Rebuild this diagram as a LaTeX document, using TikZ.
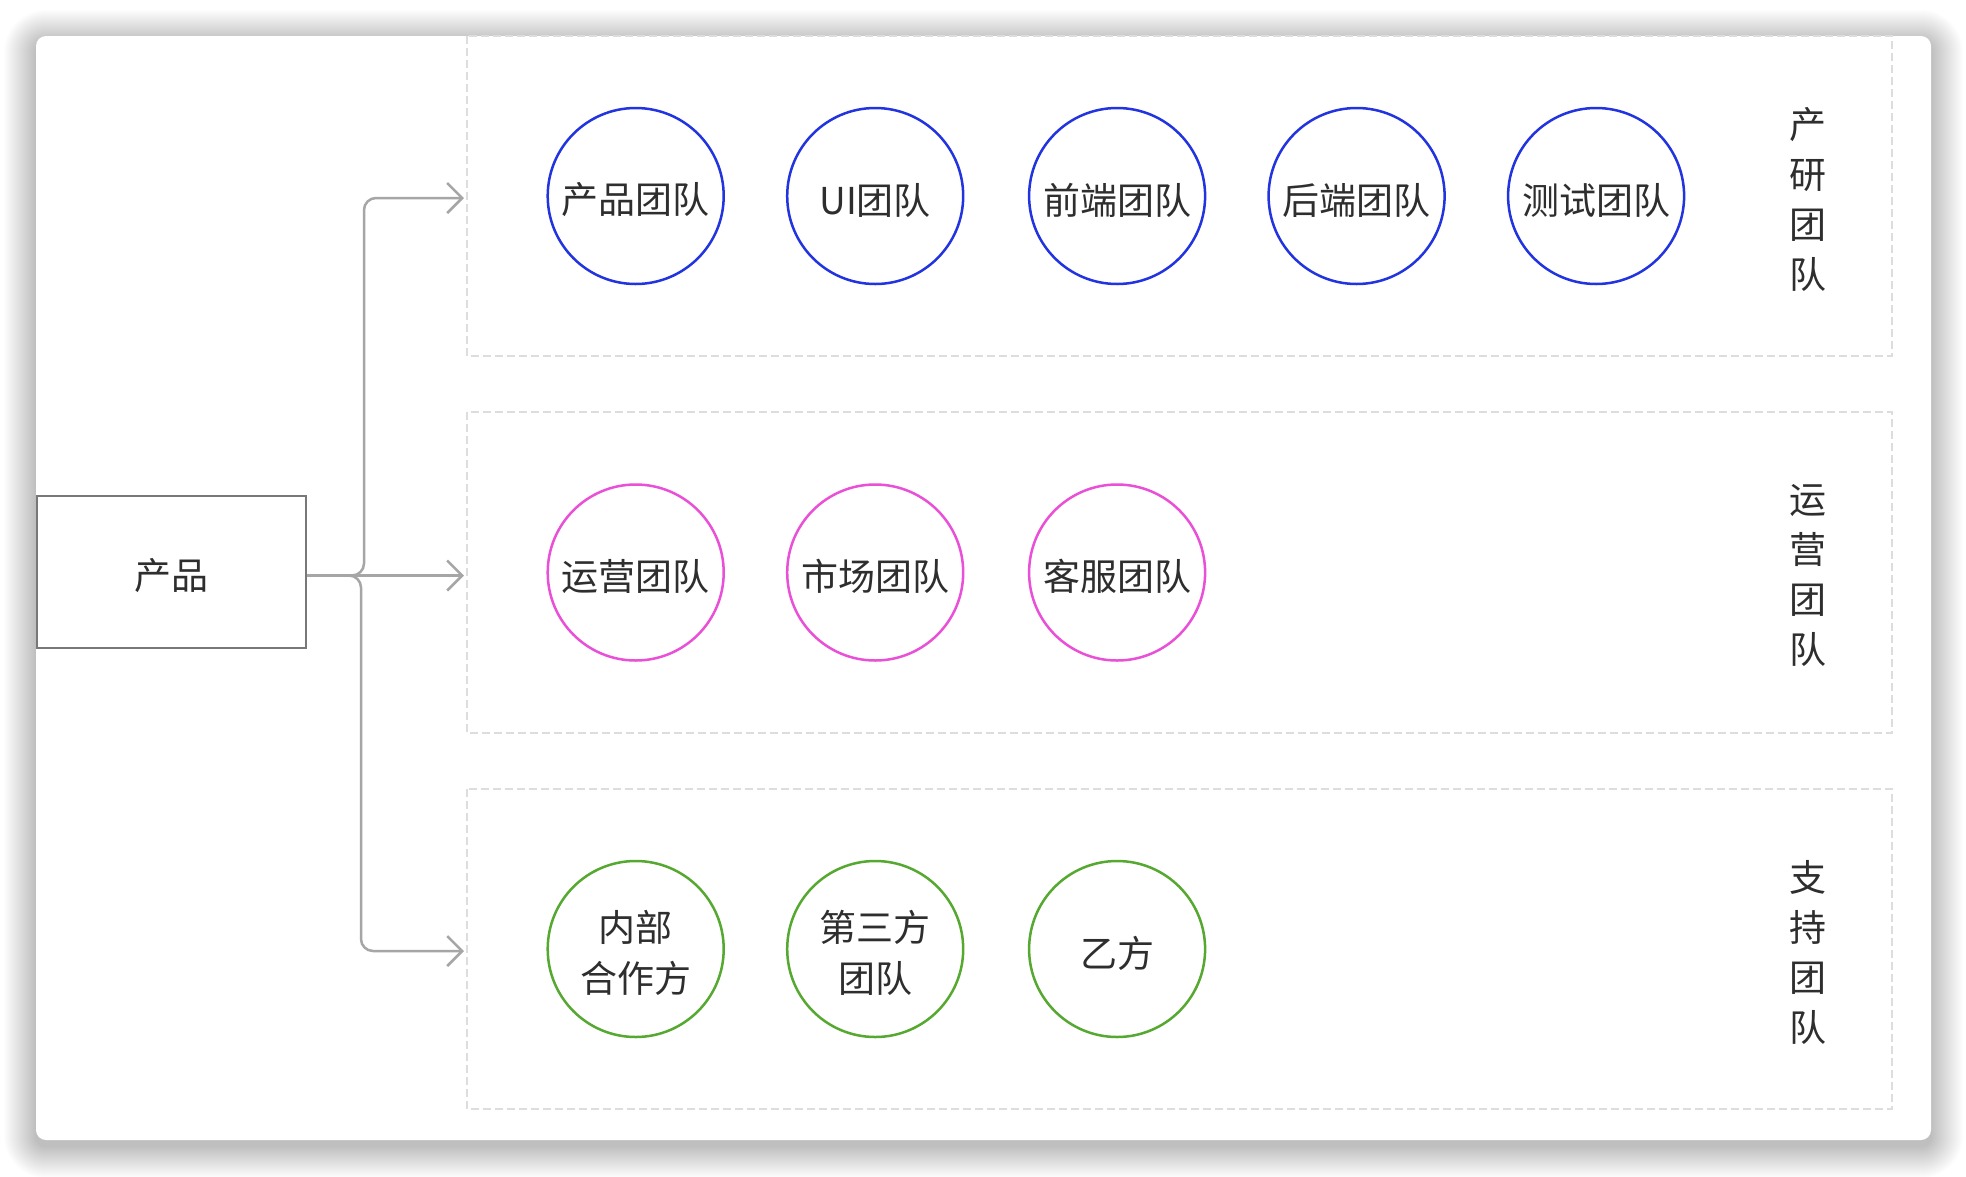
\documentclass[tikz,border=0pt]{standalone}
\usepackage{fontspec}
\setmainfont{Noto Sans CJK SC}
\usetikzlibrary{arrows.meta}
\definecolor{blueC}{HTML}{2233E0}
\definecolor{pinkC}{HTML}{EA4FD8}
\definecolor{greenC}{HTML}{55A830}
\definecolor{txt}{HTML}{2E2E2E}
\definecolor{dashC}{HTML}{DDDDDD}
\definecolor{connC}{HTML}{A6A6A6}
\definecolor{boxC}{HTML}{787878}
\tikzset{
  teamtext/.style={text=txt, align=center, inner sep=0pt, yshift=-4pt, font=\fontsize{37}{51}\selectfont},
  team/.style={circle, minimum size=176pt, inner sep=0pt, line width=2.5pt, fill=white,
    label={[teamtext]center:#1}},
  teamB/.style={team={#1}, draw=blueC},
  teamP/.style={team={#1}, draw=pinkC},
  teamG/.style={team={#1}, draw=greenC},
  dashbox/.style={draw=dashC, line width=2pt, dash pattern=on 8pt off 4pt},
  conn/.style={draw=connC, line width=2.5pt, rounded corners=12pt, -{Straight Barb[length=15pt,width=30pt,line width=2.5pt]}},
  grplabel/.style={text=txt, align=center, yshift=-3pt, font=\fontsize{37}{50}\selectfont},
}
\begin{document}
\begin{tikzpicture}[x=1pt,y=-1pt]
\useasboundingbox (0,0) rectangle (1966,1176);
\fill[white] (0,0) rectangle (1966,1176);
% shadow
\foreach \i [evaluate=\i as \r using 10+\i] in {1,...,32}
  \fill[black, opacity=0.0072, rounded corners=\r pt] (36-\i,42-\i) rectangle (1931+\i,1146+\i);
% card
\fill[white, rounded corners=10pt] (36,36) rectangle (1931,1140);
% group boxes
\draw[dashbox] (466.5,36) rectangle (1891.5,356);
\draw[dashbox] (466.5,412) rectangle (1891.5,733);
\draw[dashbox] (466.5,789) rectangle (1891.5,1109);
% group labels
\node[grplabel] (g1) at (1808,196) {产\\研\\团\\队};
\node[grplabel] (g2) at (1808,572.5) {运\\营\\团\\队};
\node[grplabel] (g3) at (1808,949) {支\\持\\团\\队};
% product
\node[draw=boxC, line width=2.5pt, minimum width=269pt, minimum height=152pt, inner sep=0pt] (prod) at (171.5,572) {};
\node[teamtext] (prodtext) at (prod.center) {产品};
% circles
\node[teamB={产品团队}] (c11) at (635.7,196) {};
\node[teamB={UI团队}] (c12) at (875.2,196) {};
\node[teamB={前端团队}] (c13) at (1117.1,196) {};
\node[teamB={后端团队}] (c14) at (1356.6,196) {};
\node[teamB={测试团队}] (c15) at (1596.1,196) {};
\node[teamP={运营团队}] (c21) at (635.7,572.5) {};
\node[teamP={市场团队}] (c22) at (875.2,572.5) {};
\node[teamP={客服团队}] (c23) at (1117.1,572.5) {};
\node[teamG={内部\\合作方}] (c31) at (635.7,949) {};
\node[teamG={第三方\\团队}] (c32) at (875.2,949) {};
\node[teamG={乙方}] (c33) at (1117.1,949) {};
% connectors
\coordinate (a1) at (464,198);
\coordinate (a2) at (464,575.5);
\coordinate (a3) at (464,951);
\draw[conn] (prod.east |- a2) -- (364,575.5) -- (364,198) -- (a1);
\draw[conn] (prod.east |- a2) -- (a2);
\draw[conn] (prod.east |- a2) -- (361,575.5) -- (361,951) -- (a3);
\end{tikzpicture}
\end{document}
